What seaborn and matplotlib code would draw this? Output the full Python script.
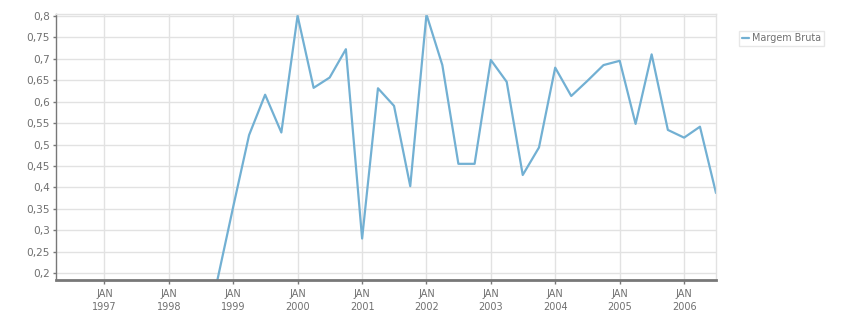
import matplotlib
matplotlib.use("Agg")
import matplotlib.pyplot as plt
import seaborn as sns
import pandas as pd

# ---- data ----
dates = ["1998-10-01", "1999-01-01", "1999-04-01", "1999-07-01", "1999-10-01",
         "2000-01-01", "2000-04-01", "2000-07-01", "2000-10-01",
         "2001-01-01", "2001-04-01", "2001-07-01", "2001-10-01",
         "2002-01-01", "2002-04-01", "2002-07-01", "2002-10-01",
         "2003-01-01", "2003-04-01", "2003-07-01", "2003-10-01",
         "2004-01-01", "2004-04-01", "2004-07-01", "2004-10-01",
         "2005-01-01", "2005-04-01", "2005-07-01", "2005-10-01",
         "2006-01-01", "2006-04-01", "2006-07-01"]
margem_bruta = [0.18, 0.355, 0.522, 0.616, 0.528,
                0.800, 0.632, 0.656, 0.722,
                0.281, 0.631, 0.590, 0.403,
                0.803, 0.685, 0.455, 0.455,
                0.697, 0.646, 0.429, 0.493,
                0.679, 0.613, 0.648, 0.685,
                0.695, 0.548, 0.710, 0.534,
                0.516, 0.5415, 0.387]
series_name = "Margem Bruta"
x_tick_years = [1997, 1998, 1999, 2000, 2001, 2002, 2003, 2004, 2005, 2006]
y_ticks = [0.2, 0.25, 0.3, 0.35, 0.4, 0.45, 0.5, 0.55, 0.6, 0.65, 0.7, 0.75, 0.8]
y_tick_labels = ["0,2", "0,25", "0,3", "0,35", "0,4", "0,45", "0,5", "0,55",
                 "0,6", "0,65", "0,7", "0,75", "0,8"]

df = pd.DataFrame({"date": pd.to_datetime(dates), "value": margem_bruta,
                   "serie": series_name})

sns.set_style("white")
plt.rcParams["font.family"] = ["DejaVu Sans"]

W, H = 851, 313
fig = plt.figure(figsize=(W / 100, H / 100), dpi=100)
ax = fig.add_axes([56 / W, 1 - 280 / H, (716 - 56) / W, (280 - 14) / H])

line_color = "#72b0d3"
grid_color = "#e2e2e2"
text_color = "#707070"
axis_color = "#787878"

sns.lineplot(data=df, x="date", y="value", hue="serie", palette=[line_color],
             linewidth=1.6, ax=ax, legend=True)

ax.set_xlim(pd.Timestamp("1996-04-01"), pd.Timestamp("2006-07-01"))
ax.set_ylim(0.1844, 0.804)

xt = [pd.Timestamp(f"{y}-01-01") for y in x_tick_years]
ax.set_xticks(xt)
ax.set_xticklabels([f"JAN\n{y}" for y in x_tick_years], fontsize=7.0,
                   color=text_color, linespacing=1.35)
ax.set_yticks(y_ticks)
ax.set_yticklabels(y_tick_labels, fontsize=7.6, color=text_color)

ax.grid(True, color=grid_color, linewidth=1.0)
ax.set_axisbelow(True)
ax.set_xlabel("")
ax.set_ylabel("")

for s in ["top", "right"]:
    ax.spines[s].set_color(grid_color)
    ax.spines[s].set_linewidth(1.0)
ax.spines["left"].set_color(axis_color)
ax.spines["left"].set_linewidth(1.0)
ax.spines["bottom"].set_color(axis_color)
ax.spines["bottom"].set_linewidth(2.0)

ax.tick_params(axis="y", length=2.5, width=1, color=axis_color, pad=2, left=True)
ax.tick_params(axis="x", length=3, width=1, color=axis_color, pad=3.5, bottom=True)

handles, labels = ax.get_legend_handles_labels()
leg = ax.legend(handles, [series_name], loc="upper left",
                bbox_to_anchor=(739 / W, 1 - 30.5 / H),
                bbox_transform=fig.transFigure, frameon=True, fancybox=False,
                fontsize=6.9, handlelength=0.75, handletextpad=0.3,
                borderpad=0.3, borderaxespad=0)
leg.get_frame().set_edgecolor(grid_color)
leg.get_frame().set_linewidth(1.0)
for t in leg.get_texts():
    t.set_color(text_color)

fig.savefig("out.png", dpi=100)
